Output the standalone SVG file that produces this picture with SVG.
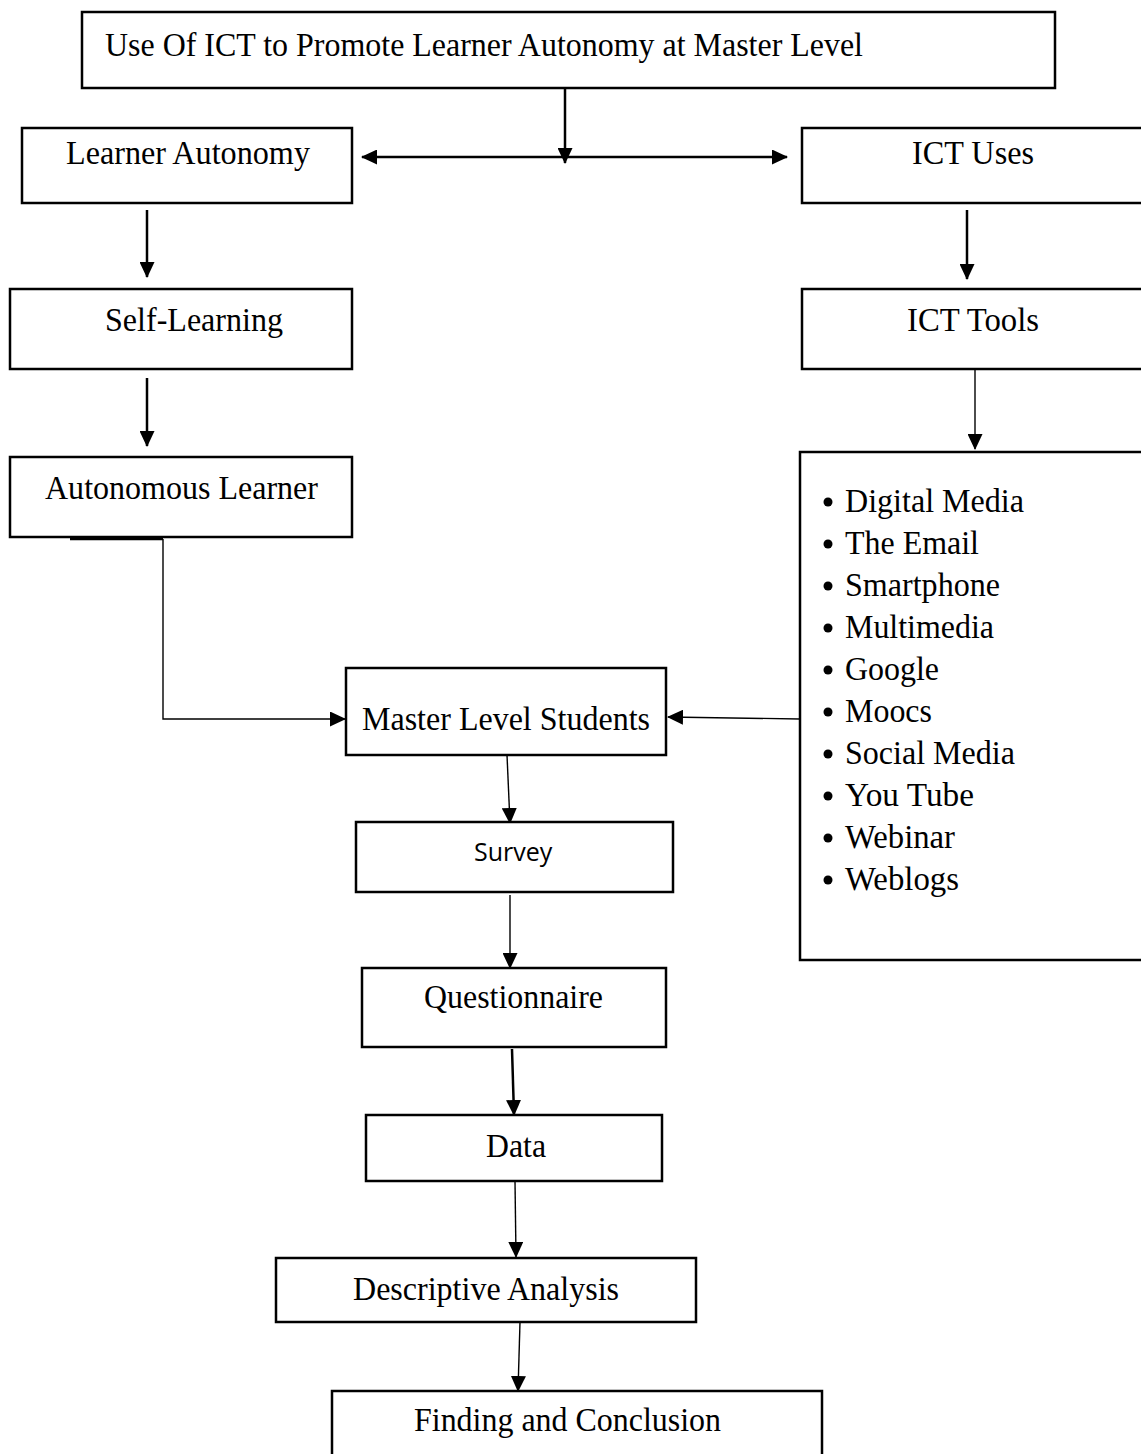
<svg xmlns="http://www.w3.org/2000/svg" width="1141" height="1454" viewBox="0 0 1141 1454">
<defs>
<marker id="ah" markerUnits="userSpaceOnUse" markerWidth="16" markerHeight="15" refX="15" refY="7.5" orient="auto">
<path d="M0,0 L16,7.5 L0,15 Z" fill="#000"/>
</marker>
<style>
.box{fill:#fff;stroke:#000;stroke-width:2.5}
.t{font-family:"Liberation Serif","Times New Roman",serif;font-size:34px;fill:#000}
.s{font-family:"Open Sans","Liberation Sans",sans-serif;font-size:25px;fill:#000}
.c{fill:none;stroke:#000;stroke-width:2.5;marker-end:url(#ah)}
.cn{fill:none;stroke:#000;stroke-width:1.4;marker-end:url(#ah)}
</style>
</defs>
<rect width="1141" height="1454" fill="#fff"/>
<g id="connectors">
<line class="c" x1="565" y1="88" x2="565" y2="163"/>
<line class="c" x1="565" y1="157" x2="362" y2="157"/>
<line class="c" x1="565" y1="157" x2="787" y2="157"/>
<line class="c" x1="147" y1="210" x2="147" y2="277"/>
<line class="c" x1="967" y1="210" x2="967" y2="279"/>
<line class="c" x1="147" y1="378" x2="147" y2="446"/>
<line class="cn" x1="975" y1="369" x2="975" y2="449"/>
<line x1="70" y1="539" x2="163" y2="539" stroke="#000" stroke-width="2.5"/>
<path class="cn" d="M163,539 V719 H345"/>
<path class="cn" d="M800,719 L668,717"/>
<line class="cn" x1="507" y1="755" x2="510" y2="823"/>
<line class="cn" x1="510" y1="895" x2="510" y2="968"/>
<line class="c" x1="512" y1="1049" x2="514" y2="1115"/>
<line class="cn" x1="515" y1="1181" x2="516" y2="1257"/>
<line class="cn" x1="520" y1="1322" x2="518" y2="1391"/>
</g>
<g id="n-title"><rect class="box" x="82" y="12" width="973" height="76"/><text class="t" x="105" y="56" textLength="758" lengthAdjust="spacingAndGlyphs">Use Of ICT to Promote Learner Autonomy at Master Level</text></g>
<g id="n-learner-autonomy"><rect class="box" x="22" y="128" width="330" height="75"/><text class="t" x="66" y="164" textLength="244" lengthAdjust="spacingAndGlyphs">Learner Autonomy</text></g>
<g id="n-ict-uses"><rect class="box" x="802" y="128" width="345" height="75"/><text class="t" x="912" y="164" textLength="122" lengthAdjust="spacingAndGlyphs">ICT Uses</text></g>
<g id="n-self-learning"><rect class="box" x="10" y="289" width="342" height="80"/><text class="t" x="105" y="331" textLength="178" lengthAdjust="spacingAndGlyphs">Self-Learning</text></g>
<g id="n-ict-tools"><rect class="box" x="802" y="289" width="345" height="80"/><text class="t" x="907" y="331" textLength="132" lengthAdjust="spacingAndGlyphs">ICT Tools</text></g>
<g id="n-autonomous-learner"><rect class="box" x="10" y="457" width="342" height="80"/><text class="t" x="45" y="499" textLength="273" lengthAdjust="spacingAndGlyphs">Autonomous Learner</text></g>
<g id="n-tools-list"><rect class="box" x="800" y="452" width="347" height="508"/>
<g fill="#000">
<circle cx="828" cy="502" r="4.5"/><circle cx="828" cy="544" r="4.5"/><circle cx="828" cy="586" r="4.5"/><circle cx="828" cy="628" r="4.5"/><circle cx="828" cy="670" r="4.5"/><circle cx="828" cy="712" r="4.5"/><circle cx="828" cy="754" r="4.5"/><circle cx="828" cy="796" r="4.5"/><circle cx="828" cy="838" r="4.5"/><circle cx="828" cy="880" r="4.5"/>
</g>
<text class="t" x="845" y="512" textLength="179" lengthAdjust="spacingAndGlyphs">Digital Media</text>
<text class="t" x="845" y="554" textLength="134" lengthAdjust="spacingAndGlyphs">The Email</text>
<text class="t" x="845" y="596" textLength="155" lengthAdjust="spacingAndGlyphs">Smartphone</text>
<text class="t" x="845" y="638" textLength="149" lengthAdjust="spacingAndGlyphs">Multimedia</text>
<text class="t" x="845" y="680" textLength="94" lengthAdjust="spacingAndGlyphs">Google</text>
<text class="t" x="845" y="722" textLength="87" lengthAdjust="spacingAndGlyphs">Moocs</text>
<text class="t" x="845" y="764" textLength="170" lengthAdjust="spacingAndGlyphs">Social Media</text>
<text class="t" x="845" y="806" textLength="129" lengthAdjust="spacingAndGlyphs">You Tube</text>
<text class="t" x="845" y="848" textLength="110" lengthAdjust="spacingAndGlyphs">Webinar</text>
<text class="t" x="845" y="890" textLength="114" lengthAdjust="spacingAndGlyphs">Weblogs</text>
</g>
<g id="n-master-students"><rect class="box" x="346" y="668" width="320" height="87"/><text class="t" x="362" y="730" textLength="288" lengthAdjust="spacingAndGlyphs">Master Level Students</text></g>
<g id="n-survey"><rect class="box" x="356" y="822" width="317" height="70"/><text class="s" x="474" y="861">Survey</text></g>
<g id="n-questionnaire"><rect class="box" x="362" y="968" width="304" height="79" stroke-width="3.2"/><text class="t" x="424" y="1008" textLength="179" lengthAdjust="spacingAndGlyphs">Questionnaire</text></g>
<g id="n-data"><rect class="box" x="366" y="1115" width="296" height="66"/><text class="t" x="486" y="1157" textLength="60" lengthAdjust="spacingAndGlyphs">Data</text></g>
<g id="n-descriptive"><rect class="box" x="276" y="1258" width="420" height="64"/><text class="t" x="353" y="1300" textLength="266" lengthAdjust="spacingAndGlyphs">Descriptive Analysis</text></g>
<g id="n-finding"><rect class="box" x="332" y="1391" width="490" height="80"/><text class="t" x="414" y="1431" textLength="307" lengthAdjust="spacingAndGlyphs">Finding and Conclusion</text></g>
</svg>
